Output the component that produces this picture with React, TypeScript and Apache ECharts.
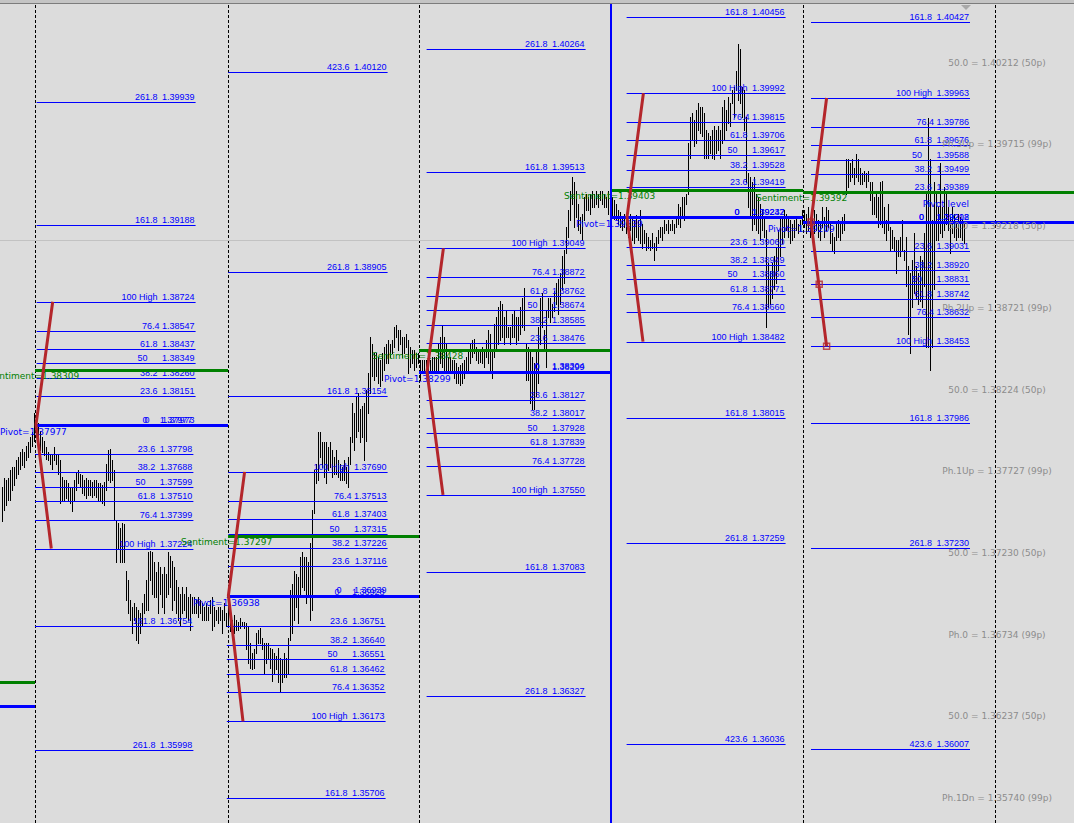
import React, { useEffect, useRef } from "react";
import * as echarts from "echarts";

// ---------- axis ranges (price and bar slots) ----------
const PRICE_MIN = 1.35555;
const PRICE_MAX = 1.40559;
const SLOT_MAX = 537;

// ---------- OHLC bars (high / low per bar), in chunks by day ----------
const BAR_START = [1, 18, 114, 210, 306, 402];

const HIGH_D0 = [1.3760,1.3765,1.3764,1.3765,1.3770,1.3772,1.3772,1.3776,1.3778,1.3781,1.3783,1.3781,1.3785,1.3787,1.3790,1.3793,1.3805];
const LOW_D0 = [1.3739,1.3746,1.3749,1.3752,1.3752,1.3758,1.3761,1.3765,1.3768,1.3771,1.3773,1.3772,1.3776,1.3778,1.3781,1.3785,1.3788];

const HIGH_D1 = [1.3805,1.3799,1.3794,1.3790,1.3788,1.3784,1.3781,1.3780,1.3779,1.3784,1.3780,1.3779,1.3776,1.3766,1.3764,1.3764,1.3762,1.3760,1.3760,1.3764,
  1.3769,1.3770,1.3768,1.3767,1.3764,1.3765,1.3764,1.3764,1.3763,1.3764,1.3764,1.3762,1.3762,1.3761,1.3763,1.3774,1.3782,1.3783,1.3776,1.3770,
  1.3740,1.3738,1.3735,1.3738,1.3737,1.3709,1.3703,1.3691,1.3687,1.3689,1.3687,1.3685,1.3683,1.3689,1.3695,1.3703,1.3720,1.3721,1.3720,1.3714,
  1.3708,1.3714,1.3711,1.3707,1.3711,1.3707,1.3720,1.3718,1.3715,1.3711,1.3703,1.3699,1.3695,1.3699,1.3695,1.3699,1.3693,1.3695,1.3693,1.3693,
  1.3691,1.3693,1.3691,1.3689,1.3687,1.3689,1.3687,1.3691,1.3693,1.3687,1.3685,1.3687,1.3687,1.3685,1.3689,1.3683];
const LOW_D1 = [1.3796,1.3787,1.3782,1.3781,1.3779,1.3777,1.3776,1.3774,1.3771,1.3776,1.3774,1.3768,1.3750,1.3752,1.3751,1.3753,1.3752,1.3750,1.3745,1.3752,
  1.3758,1.3762,1.3760,1.3756,1.3755,1.3753,1.3755,1.3755,1.3754,1.3755,1.3754,1.3752,1.3752,1.3750,1.3749,1.3758,1.3764,1.3763,1.3764,1.3740,
  1.3714,1.3723,1.3714,1.3714,1.3714,1.3691,1.3683,1.3679,1.3671,1.3679,1.3667,1.3665,1.3671,1.3675,1.3683,1.3685,1.3685,1.3703,1.3695,1.3693,
  1.3693,1.3683,1.3695,1.3687,1.3683,1.3693,1.3695,1.3699,1.3685,1.3691,1.3683,1.3679,1.3675,1.3683,1.3685,1.3681,1.3679,1.3673,1.3683,1.3683,
  1.3683,1.3681,1.3683,1.3679,1.3679,1.3679,1.3679,1.3683,1.3673,1.3675,1.3679,1.3677,1.3679,1.3671,1.3679,1.3675];

const HIGH_D2 = [1.3691,1.3683,1.3679,1.3682,1.3679,1.3678,1.3680,1.3678,1.3678,1.3677,
  1.3675,1.3665,1.3659,1.3661,1.3671,1.3673,1.3674,1.3668,1.3665,
  1.3665,1.3665,1.3662,1.3661,1.3659,1.3657,1.3662,1.3656,
  1.3655,1.3659,1.3656,1.3668,
  1.3697,1.3701,1.3709,1.3707,1.3705,
  1.3717,1.3720,1.3717,1.3717,1.3714,
  1.3726,1.3746,1.3770,1.3774,1.3793,
  1.3793,1.3787,1.3787,1.3787,1.3784,
  1.3787,1.3782,1.3778,1.3782,1.3776,
  1.3774,1.3772,1.3776,1.3772,1.3778,
  1.3790,1.3811,1.3805,1.3815,1.3817,
  1.3807,1.3809,1.3811,1.3819,1.3829,
  1.3851,1.3847,1.3841,1.3841,1.3839,
  1.3837,1.3841,1.3845,1.3847,1.3849,
  1.3847,1.3849,1.3857,1.3858,1.3855,
  1.3855,1.3851,1.3851,1.3853,1.3849,
  1.3845,1.3843,1.3843,1.3841,1.3841];
const LOW_D2 = [1.3676,1.3672,1.3673,1.3671,1.3673,1.3673,1.3674,1.3675,1.3674,1.3661,
  1.3653,1.3650,1.3649,1.3650,1.3659,1.3665,1.3665,1.3661,1.3647,
  1.3653,1.3656,1.3650,1.3642,1.3647,1.3649,1.3641,1.3635,
  1.3641,1.3644,1.3644,1.3647,
  1.3667,1.3671,1.3679,1.3687,1.3677,
  1.3693,1.3699,1.3697,1.3689,1.3693,
  1.3679,1.3685,1.3744,1.3762,1.3764,
  1.3778,1.3772,1.3766,1.3762,1.3770,
  1.3772,1.3766,1.3768,1.3768,1.3766,
  1.3764,1.3764,1.3764,1.3762,1.3760,
  1.3774,1.3787,1.3782,1.3790,1.3794,
  1.3787,1.3790,1.3776,1.3788,1.3805,
  1.3817,1.3827,1.3825,1.3827,1.3823,
  1.3821,1.3825,1.3831,1.3835,1.3835,
  1.3839,1.3841,1.3845,1.3851,1.3843,
  1.3847,1.3839,1.3841,1.3845,1.3829,
  1.3833,1.3835,1.3831,1.3833,1.3835];

const HIGH_D3 = [1.3837,1.3837,1.3837,1.3837,1.3836,1.3837,1.3839,1.3839,1.3839,1.3847,
  1.3851,1.3858,1.3851,1.3847,1.3839,1.3839,1.3837,1.3837,1.3835,1.3833,
  1.3834,1.3835,1.3837,1.3839,1.3843,1.3847,1.3849,1.3850,1.3845,1.3843,
  1.3843,1.3845,1.3843,1.3849,1.3855,1.3853,1.3843,1.3859,1.3863,1.3869,
  1.3873,1.3871,1.3863,1.3867,1.3857,1.3857,1.3865,1.3867,1.3863,1.3863,
  1.3869,1.3875,1.3881,1.3847,1.3845,1.3843,1.3839,1.3835,1.3843,1.3857,
  1.3875,1.3878,1.3855,1.3867,1.3875,1.3875,1.3871,1.3879,1.3884,1.3886,
  1.3890,1.3900,1.3904,1.3918,1.3928,1.3940,1.3948,1.3945,1.3940,1.3932,
  1.3924,1.3926,1.3936,1.3938,1.3936,1.3938,1.3940,1.3938,1.3940,1.3938,
  1.3940,1.3940,1.3938,1.3936,1.3940,1.3938];
const LOW_D3 = [1.3825,1.3829,1.3829,1.3829,1.3828,1.3829,1.3831,1.3831,1.3830,1.3831,
  1.3835,1.3833,1.3831,1.3831,1.3829,1.3831,1.3829,1.3826,1.3823,1.3823,
  1.3822,1.3823,1.3826,1.3829,1.3831,1.3835,1.3839,1.3841,1.3837,1.3835,
  1.3836,1.3835,1.3833,1.3839,1.3835,1.3829,1.3826,1.3839,1.3843,1.3847,
  1.3849,1.3851,1.3847,1.3851,1.3851,1.3847,1.3851,1.3851,1.3847,1.3849,
  1.3853,1.3857,1.3855,1.3825,1.3825,1.3811,1.3807,1.3807,1.3815,1.3823,
  1.3847,1.3857,1.3843,1.3833,1.3863,1.3860,1.3863,1.3867,1.3871,1.3865,
  1.3871,1.3880,1.3884,1.3902,1.3912,1.3922,1.3932,1.3918,1.3924,1.3916,
  1.3914,1.3910,1.3922,1.3928,1.3928,1.3926,1.3930,1.3930,1.3932,1.3930,
  1.3934,1.3932,1.3930,1.3930,1.3926,1.3928];

const HIGH_D4 = [1.3936,1.3934,1.3932,1.3928,1.3927,1.3924,1.3926,1.3924,1.3920,1.3926,
  1.3924,1.3922,1.3925,1.3922,1.3928,1.3920,1.3916,1.3914,1.3912,1.3910,
  1.3914,1.3908,1.3912,1.3916,1.3918,1.3918,1.3922,1.3920,1.3922,1.3920,
  1.3922,1.3920,1.3924,1.3932,1.3930,1.3936,1.3936,1.3938,1.3969,1.3985,
  1.3987,1.3983,1.3989,1.3993,1.3991,1.3991,1.3987,1.3977,1.3975,1.3973,
  1.3977,1.3979,1.3977,1.3979,1.3977,1.3991,1.3995,1.3989,1.3997,1.3993,
  1.4001,1.4003,1.4013,1.4029,1.4026,1.4003,1.4001,1.3985,1.3951,1.3948,
  1.3945,1.3948,1.3938,1.3936,1.3932,1.3928,1.3924,1.3916,1.3896,1.3891,
  1.3896,1.3900,1.3906,1.3916,1.3924,1.3924,1.3928,1.3926,1.3924,1.3922,
  1.3920,1.3922,1.3924,1.3920,1.3922,1.3928];
const LOW_D4 = [1.3925,1.3923,1.3923,1.3920,1.3918,1.3916,1.3918,1.3914,1.3912,1.3916,
  1.3910,1.3908,1.3912,1.3910,1.3908,1.3905,1.3908,1.3904,1.3905,1.3904,
  1.3905,1.3898,1.3904,1.3908,1.3912,1.3910,1.3914,1.3916,1.3914,1.3916,
  1.3916,1.3914,1.3918,1.3920,1.3918,1.3924,1.3922,1.3932,1.3938,1.3960,
  1.3971,1.3967,1.3969,1.3977,1.3975,1.3973,1.3960,1.3960,1.3960,1.3963,
  1.3960,1.3959,1.3963,1.3965,1.3960,1.3969,1.3971,1.3977,1.3981,1.3979,
  1.3993,1.3985,1.4001,1.3995,1.3993,1.3985,1.3977,1.3945,1.3930,1.3924,
  1.3916,1.3920,1.3916,1.3914,1.3910,1.3916,1.3912,1.3857,1.3869,1.3871,
  1.3875,1.3880,1.3884,1.3892,1.3900,1.3908,1.3912,1.3916,1.3912,1.3908,
  1.3910,1.3912,1.3916,1.3914,1.3916,1.3920];

const HIGH_D5 = [1.3928,1.3926,1.3930,1.3924,1.3924,1.3928,1.3926,1.3922,1.3920,1.3930,
  1.3924,1.3930,1.3928,1.3920,1.3914,1.3912,1.3920,1.3922,1.3920,1.3924,
  1.3926,1.3959,1.3959,1.3957,1.3959,1.3954,1.3962,1.3959,1.3954,1.3951,
  1.3952,1.3951,1.3952,1.3945,1.3945,1.3936,1.3940,1.3936,1.3945,1.3946,
  1.3930,1.3922,1.3932,1.3918,1.3916,1.3912,1.3910,1.3910,1.3912,1.3922,
  1.3904,1.3912,1.3894,1.3890,1.3898,1.3914,1.3894,1.3890,1.3900,1.3898,
  1.3914,1.3940,1.3984,1.3959,1.3922,1.3945,1.3940,1.3930,1.3957,1.3930,
  1.3942,1.3938,1.3930,1.3924,1.3930,1.3926,1.3920,1.3926,1.3924,1.3922,1.3920];
const LOW_D5 = [1.3918,1.3914,1.3916,1.3912,1.3910,1.3914,1.3916,1.3912,1.3910,1.3918,
  1.3912,1.3916,1.3918,1.3908,1.3904,1.3902,1.3910,1.3912,1.3910,1.3914,
  1.3916,1.3938,1.3942,1.3946,1.3948,1.3944,1.3948,1.3946,1.3944,1.3944,
  1.3946,1.3942,1.3946,1.3934,1.3926,1.3926,1.3924,1.3918,1.3920,1.3918,
  1.3914,1.3910,1.3916,1.3904,1.3905,1.3904,1.3890,1.3900,1.3900,1.3904,
  1.3898,1.3882,1.3853,1.3841,1.3869,1.3878,1.3875,1.3871,1.3873,1.3869,
  1.3882,1.3845,1.3845,1.3831,1.3845,1.3880,1.3910,1.3910,1.3914,1.3912,
  1.3916,1.3920,1.3916,1.3902,1.3914,1.3912,1.3910,1.3912,1.3912,1.3910,1.3908];

const HIGH_CHUNKS = [HIGH_D0, HIGH_D1, HIGH_D2, HIGH_D3, HIGH_D4, HIGH_D5];
const LOW_CHUNKS = [LOW_D0, LOW_D1, LOW_D2, LOW_D3, LOW_D4, LOW_D5];

// ---------- period separators (bar-slot positions) ----------
const DAY_SEPARATORS = [17.5, 114, 209.5, 401.5, 497.5];
const WEEK_SEPARATOR = 305.5;

// ---------- sentiment & pivot levels per day ----------
const LEVEL_FROM = [0, 17.5, 114, 209.5, 305.5, 401.5];
const LEVEL_TO = [17.5, 114, 209.5, 305.5, 401.5, 537];
const LEVEL_LABELLED = [false, true, true, true, true, true];
const SENTIMENT = [1.36412, 1.38309, 1.37297, 1.38428, 1.39403, 1.39392];
const PIVOT = [1.36266, 1.37977, 1.36938, 1.38299, 1.39239, 1.39209];

// ---------- Fibonacci sets ----------
type Fib = [string, number];
const D1_UP: Fib[] = [["261.8", 1.39939], ["161.8", 1.39188], ["100 High", 1.38724], ["76.4", 1.38547], ["61.8", 1.38437], ["50", 1.38349], ["38.2", 1.3826], ["23.6", 1.38151], ["0", 1.37973]];
const D1_DN: Fib[] = [["0", 1.37977], ["23.6", 1.37798], ["38.2", 1.37688], ["50", 1.37599], ["61.8", 1.3751], ["76.4", 1.37399], ["100 High", 1.37224], ["161.8", 1.36754], ["261.8", 1.35998]];
const D2_UP: Fib[] = [["423.6", 1.4012], ["261.8", 1.38905], ["161.8", 1.38154], ["100 High", 1.3769], ["76.4", 1.37513], ["61.8", 1.37403], ["50", 1.37315], ["38.2", 1.37226], ["23.6", 1.37116], ["0", 1.36939]];
const D2_DN: Fib[] = [["0", 1.36928], ["23.6", 1.36751], ["38.2", 1.3664], ["50", 1.36551], ["61.8", 1.36462], ["76.4", 1.36352], ["100 High", 1.36173], ["161.8", 1.35706]];
const D3_UP: Fib[] = [["261.8", 1.40264], ["161.8", 1.39513], ["100 High", 1.39049], ["76.4", 1.38872], ["61.8", 1.38762], ["50", 1.38674], ["38.2", 1.38585], ["23.6", 1.38476], ["0", 1.38299]];
const D3_DN: Fib[] = [["0", 1.38304], ["23.6", 1.38127], ["38.2", 1.38017], ["50", 1.37928], ["61.8", 1.37839], ["76.4", 1.37728], ["100 High", 1.3755], ["161.8", 1.37083], ["261.8", 1.36327]];
const D4_UP: Fib[] = [["161.8", 1.40456], ["100 High", 1.39992], ["76.4", 1.39815], ["61.8", 1.39706], ["50", 1.39617], ["38.2", 1.39528], ["23.6", 1.39419], ["0", 1.39242]];
const D4_DN: Fib[] = [["0", 1.39237], ["23.6", 1.3906], ["38.2", 1.38949], ["50", 1.3886], ["61.8", 1.38771], ["76.4", 1.3866], ["100 High", 1.38482], ["161.8", 1.38015], ["261.8", 1.37259], ["423.6", 1.36036]];
const D5_UP: Fib[] = [["161.8", 1.40427], ["100 High", 1.39963], ["76.4", 1.39786], ["61.8", 1.39676], ["50", 1.39588], ["38.2", 1.39499], ["23.6", 1.39389], ["0", 1.39212]];
const D5_DN: Fib[] = [["0", 1.39208], ["23.6", 1.39031], ["38.2", 1.3892], ["50", 1.38831], ["61.8", 1.38742], ["76.4", 1.38632], ["100 High", 1.38453], ["161.8", 1.37986], ["261.8", 1.3723], ["423.6", 1.36007]];
const FIB_SETS = [D1_UP, D1_DN, D2_UP, D2_DN, D3_UP, D3_DN, D4_UP, D4_DN, D5_UP, D5_DN];
const FIB_FROM = [18.3, 17.5, 114.2, 113.4, 213.3, 213.3, 313.3, 313.3, 405.5, 405.5];
const FIB_TO = [97.8, 96.7, 193.8, 192.8, 292.8, 292.8, 392.8, 392.8, 485, 485];
const PIVOT_LEVEL_TEXT: [number, number, string] = [485, 1.39212, "Pivot level"];

// ---------- red range "fan" lines ----------
const FAN_LINES: number[][][] = [
  [[26.35, 1.38724], [18, 1.37977], [25.65, 1.37224]],
  [[122.3, 1.3769], [114.2, 1.36938], [121.5, 1.36173]],
  [[221.7, 1.39049], [213.5, 1.38299], [221.5, 1.3755]],
  [[321.7, 1.39992], [313.5, 1.39239], [321.5, 1.38482]],
  [[413.3, 1.39963], [405.5, 1.39209], [413.3, 1.38453]],
];
const FAN_MARKS = [[405.5, 1.39209], [409.6, 1.38831], [413.3, 1.38453]];

// ---------- weekly pivot grid labels (right) ----------
const PH_NAMES = ["50.0", "Ph.3Up", "50.0", "Ph.2Up", "50.0", "Ph.1Up", "50.0", "Ph.0", "50.0", "Ph.1Dn"];
const PH_PRICES = [1.40212, 1.39715, 1.39218, 1.38721, 1.38224, 1.37727, 1.3723, 1.36734, 1.36237, 1.3574];
const PH_PIPS = ["50p", "99p", "50p", "99p", "50p", "99p", "50p", "99p", "50p", "99p"];
const PH_X = 498.5;

const ASK_PRICE = 1.39102;

// ---------- styles ----------
const BG = "#dcdcdc";
const BLUE = "#0000ff";
const GREEN = "#008000";
const RED = "#b4262b";
const GREY_TXT = "#8c8c8c";
const FONT_FIB = '9px "Liberation Sans", Arial, sans-serif';
const FONT_LBL = '9px "DejaVu Sans", Verdana, sans-serif';

function buildOption(): any {
  const bars: number[][] = [];
  HIGH_CHUNKS.forEach((hs, k) => {
    hs.forEach((h, j) => bars.push([BAR_START[k] + j, h, LOW_CHUNKS[k][j]]));
  });

  const fibRows: { lvl: string; p: number; from: number; to: number }[] = [];
  FIB_SETS.forEach((set, k) => set.forEach(([lvl, p]) => fibRows.push({ lvl, p, from: FIB_FROM[k], to: FIB_TO[k] })));

  const levelRows: { kind: string; p: number; from: number; to: number; label: boolean }[] = [];
  SENTIMENT.forEach((p, k) => levelRows.push({ kind: "s", p, from: LEVEL_FROM[k], to: LEVEL_TO[k], label: LEVEL_LABELLED[k] }));
  PIVOT.forEach((p, k) => levelRows.push({ kind: "p", p, from: LEVEL_FROM[k], to: LEVEL_TO[k], label: LEVEL_LABELLED[k] }));

  const series: any[] = [];

  // separators (behind)
  series.push({
    type: "custom",
    z: 1,
    data: DAY_SEPARATORS.map((x) => [x, PRICE_MAX]),
    renderItem: (params: any, api: any) => {
      const a = api.coord([api.value(0), PRICE_MAX]);
      const b = api.coord([api.value(0), PRICE_MIN]);
      const x = Math.round(a[0]) + 0.5;
      return { type: "line", shape: { x1: x, y1: a[1], x2: x, y2: b[1] }, style: { stroke: "#000", lineWidth: 1, lineDash: [3, 2] } };
    },
  });

  // ask line
  series.push({
    type: "custom",
    z: 1,
    data: [[0, ASK_PRICE]],
    renderItem: (params: any, api: any) => {
      const a = api.coord([0, api.value(1)]);
      const b = api.coord([SLOT_MAX, api.value(1)]);
      const y = Math.round(a[1]) + 0.5;
      return { type: "line", shape: { x1: a[0], y1: y, x2: b[0], y2: y }, style: { stroke: "#c2c2c2", lineWidth: 1 } };
    },
  });

  // price bars
  series.push({
    type: "custom",
    z: 2,
    data: bars,
    encode: { x: 0, y: [1, 2] },
    renderItem: (params: any, api: any) => {
      const i = api.value(0);
      const t = api.coord([i, api.value(1)]);
      const b = api.coord([i, api.value(2)]);
      const x = Math.round(t[0]) + 0.5;
      return { type: "line", shape: { x1: x, y1: Math.round(t[1]), x2: x, y2: Math.round(b[1]) + 1 }, style: { stroke: "#000", lineWidth: 1 } };
    },
  });

  // fibonacci levels
  series.push({
    type: "custom",
    z: 3,
    data: fibRows.map((r) => [r.from, r.to, r.p]),
    renderItem: (params: any, api: any) => {
      const r = fibRows[params.dataIndex];
      const a = api.coord([api.value(0), api.value(2)]);
      const b = api.coord([api.value(1), api.value(2)]);
      const y = Math.round(a[1]) + 0.5;
      const off = r.lvl === "50" ? 48 : r.lvl === "0" ? 46 : r.lvl === "76.4" ? 36 : 38;
      return {
        type: "group",
        children: [
          { type: "line", shape: { x1: a[0], y1: y, x2: b[0], y2: y }, style: { stroke: BLUE, lineWidth: 1 } },
          { type: "text", style: { text: r.p.toFixed(5), x: b[0] - 1, y: y - 1, align: "right", verticalAlign: "bottom", fill: BLUE, font: FONT_FIB } },
          { type: "text", style: { text: r.lvl, x: b[0] - off, y: y - 1, align: "right", verticalAlign: "bottom", fill: BLUE, font: FONT_FIB } },
        ],
      };
    },
  });

  // "Pivot level" caption
  series.push({
    type: "custom",
    z: 3,
    data: [[PIVOT_LEVEL_TEXT[0], PIVOT_LEVEL_TEXT[1]]],
    renderItem: (params: any, api: any) => {
      const a = api.coord([api.value(0), api.value(1)]);
      return { type: "text", style: { text: PIVOT_LEVEL_TEXT[2], x: a[0] - 1, y: a[1] - 13, align: "right", verticalAlign: "bottom", fill: BLUE, font: FONT_LBL } };
    },
  });

  // sentiment (green) and pivot (blue) thick lines
  series.push({
    type: "custom",
    z: 4,
    data: levelRows.map((r) => [r.from, r.to, r.p]),
    renderItem: (params: any, api: any) => {
      const r = levelRows[params.dataIndex];
      const a = api.coord([api.value(0), api.value(2)]);
      const b = api.coord([api.value(1), api.value(2)]);
      const y = Math.round(a[1]) + 0.5;
      const col = r.kind === "s" ? GREEN : BLUE;
      const children: any[] = [
        { type: "line", shape: { x1: a[0], y1: y, x2: b[0], y2: y }, style: { stroke: col, lineWidth: 3 } },
      ];
      if (r.label) {
        const txt = (r.kind === "s" ? "Sentiment=" : "Pivot=") + r.p.toFixed(5);
        const tx = r.kind === "s" ? a[0] - 47 : a[0] - 35;
        children.push({ type: "text", style: { text: txt, x: tx, y: y + (r.kind === "s" ? 1 : 2), align: "left", verticalAlign: "top", fill: col, font: FONT_LBL } });
      }
      return { type: "group", children };
    },
  });

  // week separator (blue, solid)
  series.push({
    type: "custom",
    z: 5,
    data: [[WEEK_SEPARATOR, PRICE_MAX]],
    renderItem: (params: any, api: any) => {
      const a = api.coord([api.value(0), PRICE_MAX]);
      const b = api.coord([api.value(0), PRICE_MIN]);
      const x = Math.round(a[0]);
      return { type: "line", shape: { x1: x, y1: a[1], x2: x, y2: b[1] }, style: { stroke: BLUE, lineWidth: 2 } };
    },
  });

  // red fan lines
  FAN_LINES.forEach((pts) => {
    series.push({
      type: "line",
      z: 6,
      data: pts,
      symbol: "none",
      lineStyle: { color: RED, width: 3 },
      silent: true,
    });
  });
  series.push({
    type: "scatter",
    z: 7,
    data: FAN_MARKS,
    symbol: "rect",
    symbolSize: 6,
    itemStyle: { color: "rgba(0,0,0,0)", borderColor: RED, borderWidth: 1.5 },
    silent: true,
  });

  // right-side grid labels
  series.push({
    type: "custom",
    z: 8,
    data: PH_PRICES.map((p) => [PH_X, p]),
    renderItem: (params: any, api: any) => {
      const k = params.dataIndex;
      const a = api.coord([api.value(0), api.value(1)]);
      const txt = PH_NAMES[k] + " = " + PH_PRICES[k].toFixed(5) + " (" + PH_PIPS[k] + ")";
      return { type: "text", style: { text: txt, x: a[0], y: a[1] + 1, align: "center", verticalAlign: "top", fill: GREY_TXT, font: FONT_LBL } };
    },
  });

  return {
    animation: false,
    backgroundColor: BG,
    grid: { left: 0, right: 0, top: 0, bottom: 0 },
    xAxis: { type: "value", min: 0, max: SLOT_MAX, show: false },
    yAxis: { type: "value", min: PRICE_MIN, max: PRICE_MAX, show: false, scale: true },
    graphic: [
      { type: "rect", shape: { x: 0, y: 0, width: 1074, height: 3 }, style: { fill: "#c4c4c4" }, z: 100 },
      { type: "line", shape: { x1: 0, y1: 3.5, x2: 1074, y2: 3.5 }, style: { stroke: "#7c7c7c", lineWidth: 1 }, z: 100 },
      { type: "polygon", shape: { points: [[961, 5], [971, 5], [966, 10]] }, style: { fill: "#a8a8a8" }, z: 100 },
    ],
    series,
  };
}

export default function App() {
  const ref = useRef<HTMLDivElement>(null);
  useEffect(() => {
    if (!ref.current) return;
    const chart = echarts.init(ref.current, null, { renderer: "svg", width: 1074, height: 823 });
    chart.setOption(buildOption());
    return () => chart.dispose();
  }, []);
  return <div ref={ref} style={{ position: "fixed", left: 0, top: 0, width: 1074, height: 823 }} />;
}
